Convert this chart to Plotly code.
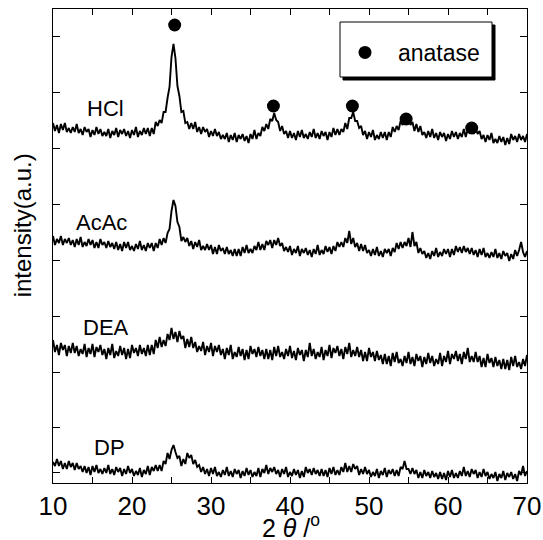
import plotly.graph_objects as go

# ---------------- data ----------------
TWO_THETA_START = 10.0   # deg, first sample of every scan
TWO_THETA_STEP = 0.25    # deg, sampling step of every scan

# intensities (a.u., including the vertical offsets of the stacked plot), 4 samples per degree
hcl = [
    360, 352, 358, 350,  359, 353, 360, 351,  355, 350, 356, 351,  359, 350, 354, 348,
    356, 351, 354, 346,  353, 348, 356, 349,  354, 347, 351, 347,  354, 345, 352, 348,
    355, 346, 353, 349,  354, 347, 352, 345,  353, 348, 356, 346,  352, 348, 355, 349,
    355, 347, 355, 349,  361, 357, 363, 360,  371, 371, 385, 396,  426, 439, 425, 397,
    387, 371, 372, 360,  361, 354, 360, 354,  361, 351, 356, 349,  356, 351, 354, 346,
    352, 347, 354, 347,  351, 344, 348, 344,  350, 341, 348, 343,  350, 341, 348, 344,
    349, 342, 347, 340,  349, 344, 353, 344,  350, 347, 356, 352,  359, 354, 364, 362,
    370, 363, 361, 352,  357, 349, 352, 345,  352, 345, 350, 343,  352, 346, 353, 345,
    349, 344, 351, 346,  354, 345, 350, 344,  352, 347, 351, 343,  351, 346, 355, 348,
    354, 348, 354, 351,  360, 354, 365, 365,  371, 362, 362, 355,  357, 348, 352, 344,
    351, 346, 353, 343,  348, 344, 351, 345,  351, 343, 351, 346,  356, 351, 357, 353,
    362, 358, 364, 360,  367, 358, 361, 352,  359, 351, 357, 348,  351, 345, 352, 346,
    354, 345, 350, 343,  351, 346, 350, 342,  349, 344, 352, 346,  351, 344, 350, 346,
    354, 346, 354, 351,  359, 349, 355, 349,  352, 344, 348, 341,  348, 343, 350, 340,
    344, 340, 347, 341,  346, 338, 345, 339,  349, 343, 347, 341,  349, 343, 347, 341,
    349,
]
acac = [
    247, 238, 244, 240,  247, 238, 244, 240,  245, 238, 243, 236,  244, 238, 246, 236,
    241, 237, 244, 238,  243, 235, 241, 235,  244, 238, 241, 235,  242, 236, 240, 234,
    241, 233, 239, 232,  241, 235, 241, 233,  237, 232, 239, 234,  242, 233, 238, 232,
    240, 235, 240, 232,  240, 235, 244, 238,  245, 240, 250, 254,  272, 283, 277, 261,
    256, 242, 246, 241,  245, 237, 242, 234,  241, 236, 243, 233,  237, 233, 239, 233,
    238, 229, 236, 229,  238, 232, 235, 229,  236, 229, 233, 227,  234, 227, 234, 227,
    236, 230, 238, 230,  234, 230, 237, 233,  241, 233, 239, 233,  242, 238, 243, 235,
    243, 238, 245, 237,  240, 232, 236, 231,  237, 228, 234, 230,  237, 227, 234, 230,
    235, 228, 233, 226,  234, 229, 238, 228,  233, 229, 237, 231,  236, 229, 237, 232,
    241, 236, 241, 236,  245, 240, 252, 239,  245, 236, 240, 232,  239, 232, 238, 230,
    233, 227, 234, 228,  236, 227, 232, 226,  234, 230, 234, 227,  235, 231, 240, 234,
    241, 235, 241, 237,  245, 236, 251, 237,  241, 230, 235, 229,  232, 225, 230, 224,
    232, 227, 235, 226,  231, 227, 234, 229,  234, 226, 234, 228,  237, 231, 236, 230,
    237, 231, 235, 229,  235, 228, 233, 226,  234, 228, 235, 226,  230, 225, 231, 226,
    234, 225, 230, 224,  232, 227, 230, 222,  229, 224, 233, 227,  233, 241, 231, 226,
    232,
]
dea = [
    143, 131, 138, 128,  140, 133, 138, 127,  137, 130, 140, 130,  137, 127, 134, 129,
    139, 126, 135, 129,  139, 126, 136, 131,  138, 128, 134, 124,  135, 128, 139, 125,
    132, 127, 137, 128,  135, 124, 134, 125,  138, 130, 135, 127,  138, 129, 135, 127,
    138, 128, 138, 129,  143, 135, 146, 136,  143, 137, 149, 143,  155, 144, 151, 141,
    152, 144, 147, 135,  144, 136, 146, 135,  141, 131, 137, 132,  141, 128, 137, 131,
    140, 127, 137, 131,  138, 128, 134, 124,  135, 128, 138, 124,  131, 126, 136, 127,
    134, 123, 133, 124,  137, 129, 134, 126,  136, 127, 133, 124,  134, 124, 133, 123,
    136, 127, 137, 126,  131, 124, 134, 127,  137, 125, 132, 123,  135, 128, 133, 122,
    133, 126, 140, 127,  134, 124, 131, 126,  136, 123, 133, 127,  138, 125, 135, 130,
    137, 127, 134, 124,  136, 129, 140, 126,  133, 127, 136, 126,  133, 122, 131, 122,
    135, 126, 131, 122,  132, 123, 128, 119,  129, 119, 127, 117,  130, 121, 131, 120,
    124, 117, 127, 120,  131, 119, 126, 117,  129, 122, 127, 116,  126, 119, 130, 120,
    127, 117, 124, 119,  130, 117, 127, 121,  132, 119, 129, 124,  132, 122, 129, 119,
    131, 124, 135, 121,  127, 121, 131, 121,  127, 116, 125, 116,  129, 120, 125, 116,
    126, 117, 123, 114,  124, 114, 123, 113,  126, 117, 127, 116,  121, 114, 124, 117,
    128,
]
dp = [
    21, 17, 24, 17,  22, 14, 20, 14,  22, 16, 20, 13,  20, 14, 17, 11,
    17, 10, 16, 8,   17, 11, 18, 10,  14, 9, 15, 10,   18, 9, 14, 8,
    16, 11, 15, 7,   14, 9, 17, 10,   14, 7, 12, 8,    15, 6, 13, 9,
    17, 8, 16, 12,   18, 12, 18, 12,  22, 19, 30, 24,  33, 38, 31, 25,
    27, 17, 24, 19,  30, 25, 28, 19,  23, 16, 18, 11,  16, 9, 14, 7,
    15, 9, 16, 7,    11, 6, 13, 8,    16, 7, 12, 6,    14, 9, 13, 5,
    12, 7, 15, 8,    13, 6, 11, 7,    15, 6, 14, 10,   18, 9, 15, 11,
    16, 9, 13, 6,    14, 9, 16, 6,    11, 7, 14, 8,    13, 5, 12, 6,
    16, 10, 14, 8,   15, 9, 13, 7,    14, 7, 13, 6,    15, 9, 16, 8,
    13, 8, 16, 11,   20, 11, 17, 11,  19, 14, 17, 8,   14, 9, 16, 9,
    13, 6, 11, 7,    14, 5, 12, 8,    15, 6, 13, 9,    14, 7, 13, 7,
    16, 14, 22, 14,  14, 9, 15, 9,    13, 5, 11, 5,    13, 7, 11, 5,
    12, 6, 10, 4,    11, 4, 10, 3,    12, 6, 13, 5,    10, 5, 12, 7,
    16, 7, 12, 6,    14, 9, 13, 5,    11, 6, 14, 7,    11, 4, 9, 5,
    11, 2, 9, 5,     12, 3, 10, 6,    11, 4, 9, 2,     12, 8, 17, 7,
    12,
]

sample_names = ["HCl", "AcAc", "DEA", "DP"]
label_2theta = [16.7, 16.1, 16.7, 17.2]
label_intensity = [375, 261, 156, 36]

anatase_2theta = [25.4, 37.9, 47.9, 54.7, 63.0]
anatase_intensity = [458, 377, 377, 364, 355]

x_major_dtick = 10
x_minor_dtick = 5
y_tick_vals = [11, 56, 111, 167, 223, 279, 335, 391, 447]

# ---------------- figure ----------------
FONT = "Liberation Sans, Arial, sans-serif"
two_theta = [TWO_THETA_START + i * TWO_THETA_STEP for i in range(len(hcl))]

fig = go.Figure()
for name, ys in zip(sample_names, [hcl, acac, dea, dp]):
    fig.add_trace(go.Scatter(x=two_theta, y=ys, mode="lines", name=name,
                             line=dict(color="black", width=1.9), showlegend=False))

fig.add_trace(go.Scatter(x=anatase_2theta, y=anatase_intensity, mode="markers",
                         name="anatase", marker=dict(color="black", size=13),
                         showlegend=True))

for name, lx, ly in zip(sample_names, label_2theta, label_intensity):
    fig.add_annotation(x=lx, y=ly, text=name, showarrow=False,
                       font=dict(family=FONT, size=22, color="black"))

# axis titles
fig.add_annotation(xref="paper", yref="paper", x=0.502, y=-0.09, xanchor="center",
                   yanchor="middle", text="2 <i>θ</i> /<sup>o</sup>", showarrow=False,
                   font=dict(family=FONT, size=25, color="black"))
fig.add_annotation(xref="paper", yref="paper", x=-0.065, y=0.544, xanchor="center",
                   yanchor="middle", text="intensity(a.u.)", showarrow=False, textangle=-90,
                   font=dict(family=FONT, size=24, color="black"))

# legend frame with drop shadow
fig.add_shape(type="rect", xref="paper", yref="paper", layer="above",
              x0=(343 - 53) / 474, x1=(495 - 53) / 474, y0=(483 - 80) / 474, y1=(483 - 25) / 474,
              fillcolor="black", line=dict(color="black", width=1))
fig.add_shape(type="rect", xref="paper", yref="paper", layer="above",
              x0=(340 - 53) / 474, x1=(492 - 53) / 474, y0=(483 - 77) / 474, y1=(483 - 22) / 474,
              fillcolor="white", line=dict(color="black", width=1))

axis_common = dict(showline=True, linecolor="black", linewidth=1, mirror="allticks",
                   ticks="inside", tickcolor="black", showgrid=False, zeroline=False,
                   automargin=False)

fig.update_layout(
    width=543, height=540,
    margin=dict(l=53, r=16, t=9, b=57),
    plot_bgcolor="white", paper_bgcolor="white",
    font=dict(family=FONT, color="black"),
    xaxis=dict(range=[10, 70], tick0=10, dtick=x_major_dtick, ticklen=6,
               minor=dict(tick0=10, dtick=x_minor_dtick, ticks="inside", ticklen=6,
                          tickcolor="black", showgrid=False),
               tickfont=dict(family=FONT, size=26, color="black"), **axis_common),
    yaxis=dict(range=[0, 474], tickvals=y_tick_vals, showticklabels=False, ticklen=7,
               **axis_common),
    showlegend=True,
    legend=dict(x=(332 - 53) / 474, xanchor="left", y=(483 - 31) / 474, yanchor="top",
                bgcolor="rgba(0,0,0,0)", borderwidth=0, itemwidth=56,
                font=dict(family=FONT, size=23, color="black")),
)

fig.write_html("out.html", config={"displayModeBar": False},
               post_script="document.body.style.margin='0';document.body.style.padding='0';")
